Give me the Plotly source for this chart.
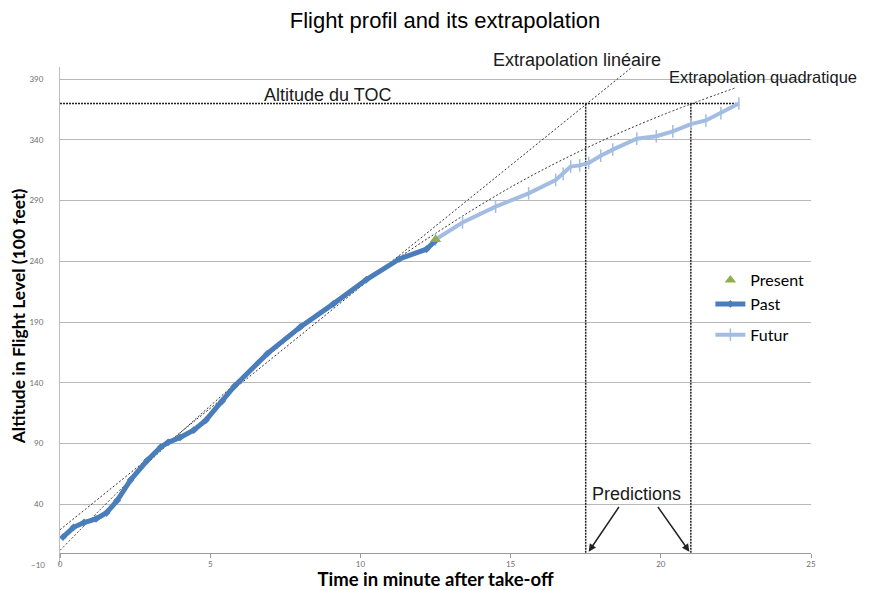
import plotly.graph_objects as go

# ---------------- data ----------------
past_t = [0.1, 0.45, 0.8, 1.2, 1.55, 1.9, 2.35, 2.9, 3.35, 3.6, 4.0, 4.45, 4.85,
          5.4, 5.8, 6.9, 8.0, 9.1, 10.2, 11.3, 12.2, 12.5]
past_alt = [13, 21, 25, 28, 33, 43, 60, 76, 87, 91, 95, 101, 109,
            125, 137, 164, 186, 205, 225, 242, 250, 257]

futur_t = [12.5, 13.4, 14.5, 15.6, 16.5, 16.75, 17.0, 17.3, 17.6, 18.0, 18.4,
           19.2, 19.85, 20.4, 21.0, 21.5, 22.0, 22.6]
futur_alt = [258, 272, 285, 296, 307, 312, 318, 319, 321, 327, 332,
             341, 343, 347, 353, 356, 362, 370]

present_t = [12.5]
present_alt = [258]

lin_t = [0, 19]
lin_alt = [19, 399]

quad_t = [0, 2.5, 5, 7.5, 10, 12.5, 15, 17.5, 20, 22.5]
quad_alt = [2, 64, 121, 174, 221, 263, 301, 333, 360, 383]

toc_alt = 370
toc_end_t = 22.5
pred_t = [17.5, 21.0]

y_ticks = [40, 90, 140, 190, 240, 290, 340, 390]
y_low_tick = [-10]
x_ticks = [0, 5, 10, 15, 20, 25]
y_range = [-10, 400]
x_range = [0, 25]


def ypaper(v):
    return (v - y_range[0]) / (y_range[1] - y_range[0])


# ---------------- figure ----------------
fig = go.Figure()

dot = dict(color="#333333", width=1, dash="2px,2px")
fig.add_trace(go.Scatter(x=lin_t, y=lin_alt, mode="lines", line=dot,
                         showlegend=False, hoverinfo="skip"))
fig.add_trace(go.Scatter(x=quad_t, y=quad_alt, mode="lines", line=dict(dot, shape="spline"),
                         showlegend=False, hoverinfo="skip"))

# TOC horizontal and prediction verticals
vdot = dict(color="#222222", width=1.5, dash="2px,1px")
fig.add_trace(go.Scatter(x=[0, toc_end_t], y=[toc_alt, toc_alt], mode="lines", line=vdot,
                         showlegend=False, hoverinfo="skip"))
for pt in pred_t:
    fig.add_trace(go.Scatter(x=[pt, pt], y=[0, toc_alt], mode="lines", line=vdot,
                             showlegend=False, hoverinfo="skip"))

fig.add_trace(go.Scatter(x=futur_t, y=futur_alt, mode="lines+markers", name="Futur",
                         legendgroup="b", legendrank=3,
                         line=dict(color="#A3BCE2", width=4),
                         marker=dict(symbol="line-ns-open", size=9,
                                     line=dict(color="#A3BCE2", width=1.5))))
fig.add_trace(go.Scatter(x=past_t, y=past_alt, mode="lines+markers", name="Past",
                         legendgroup="a", legendrank=2,
                         line=dict(color="#4A7EBB", width=5),
                         marker=dict(symbol="diamond", size=6, color="#4A7EBB")))
fig.add_trace(go.Scatter(x=present_t, y=present_alt, mode="markers", name="Present",
                         legendgroup="a", legendrank=1,
                         marker=dict(symbol="triangle-up", size=10, color="#8FAF4F")))

# secondary axis only for the lowest tick label
fig.add_trace(go.Scatter(x=[None], y=[None], yaxis="y2", showlegend=False, hoverinfo="skip"))

W, H = 875, 582   # page body has an 8px margin in the 883x590 window
tick_font = dict(family="Lato, sans-serif", size=8, color="#6E6E6E")
fig.update_layout(
    width=W, height=H,
    margin=dict(l=52, r=72, t=59, b=25),
    paper_bgcolor="white", plot_bgcolor="white",
    title=dict(text="Flight profil and its extrapolation", x=437 / W, xanchor="center",
               y=1 - 12 / H, yanchor="middle",
               font=dict(family="Liberation Sans, Arial", size=22, color="black")),
    xaxis=dict(range=x_range, tickvals=x_ticks, showgrid=False, zeroline=False,
               automargin=False,
               anchor="free", position=ypaper(0),
               showline=True, linecolor="#9A9A9A", linewidth=1,
               ticks="outside", ticklen=4, tickcolor="#9A9A9A",
               tickfont=tick_font,
               title=dict(text="<b>Time in minute after take-off</b>", standoff=2,
                          font=dict(family="Lato, sans-serif", size=18.5, color="black"))),
    yaxis=dict(range=y_range, tickvals=y_ticks, showgrid=True, gridcolor="#B8B8B8",
               automargin=False,
               gridwidth=1, zeroline=False, showline=True, linecolor="#BDBDBD",
               ticks="", ticklabelstandoff=14, tickfont=tick_font,
               title=dict(text="<b>Altitude in Flight Level (100 feet)</b>", standoff=1,
                          font=dict(family="Lato, sans-serif", size=17.5, color="black"))),
    yaxis2=dict(range=y_range, tickvals=y_low_tick, overlaying="y", side="left",
                automargin=False,
                showgrid=False, zeroline=False, showline=False, ticks="",
                ticklabelstandoff=14, tickfont=tick_font),
    legend=dict(x=0.866, y=0.606, xanchor="left", yanchor="top",
                bgcolor="rgba(0,0,0,0)", traceorder="grouped", tracegroupgap=7,
                font=dict(family="Lato, sans-serif", size=16, color="black")),
    showlegend=True,
)

ann_font = dict(family="Liberation Sans, Arial", size=18, color="#1a1a1a")
fig.add_annotation(x=17.2, y=ypaper(406), yref="paper", text="Extrapolation linéaire",
                   showarrow=False, xanchor="center", yanchor="middle", font=ann_font)
fig.add_annotation(x=20.2, y=ypaper(392), yref="paper", text="Extrapolation quadratique",
                   showarrow=False, xanchor="left", yanchor="middle",
                   font=dict(ann_font, size=16.5))
fig.add_annotation(x=8.92, y=377, text="Altitude du TOC", showarrow=False,
                   xanchor="center", yanchor="middle", font=ann_font)
fig.add_annotation(x=19.2, y=48.5, text="Predictions", showarrow=False,
                   xanchor="center", yanchor="middle", font=ann_font)
fig.add_annotation(x=pred_t[0] + 0.1, y=1, ax=18.64, ay=39, axref="x", ayref="y",
                   text="", showarrow=True, arrowhead=2, arrowsize=1, arrowwidth=1.5,
                   arrowcolor="#222222")
fig.add_annotation(x=pred_t[1] - 0.05, y=1, ax=19.87, ay=39, axref="x", ayref="y",
                   text="", showarrow=True, arrowhead=2, arrowsize=1, arrowwidth=1.5,
                   arrowcolor="#222222")

fig.write_html("out.html")
